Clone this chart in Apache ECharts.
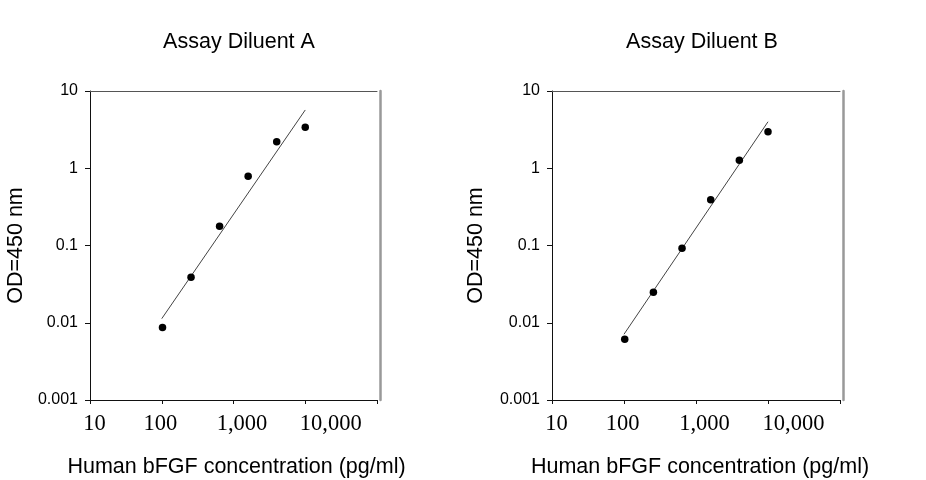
<!DOCTYPE html>
<html>
<head>
<meta charset="utf-8">
<script src="https://cdn.jsdelivr.net/npm/echarts@6/dist/echarts.min.js"></script>
<style>html,body{margin:0;padding:0;background:#fff}#c{width:926px;height:480px}</style>
</head>
<body>
<div id="c"></div>
<script>
// ---- data ----
var titles = ['Assay Diluent A', 'Assay Diluent B'];
var concentrations = [102.4, 256, 640, 1600, 4000, 10000];
var odA = [0.0087, 0.0387, 0.177, 0.79, 2.21, 3.39];
var odB = [0.0061, 0.0248, 0.092, 0.39, 1.27, 2.97];
var fitX = [100, 10000];
var fitA = [0.0113, 5.68];
var fitB = [0.0071, 4.0];
var xTickValues = [10, 100, 1000, 10000, 100000];
var xTickLabels = ['10', '100', '1,000', '10,000', ''];
var yTickValues = [0.001, 0.01, 0.1, 1, 10];
var yTickLabels = ['0.001', '0.01', '0.1', '1', '10'];
var xAxisTitle = 'Human bFGF concentration (pg/ml)';
var yAxisTitle = 'OD=450 nm';

function pairs(xs, ys) { return xs.map(function (x, i) { return [x, ys[i]]; }); }

var sans = 'Liberation Sans, Arial, sans-serif';
var serif = 'Liberation Serif, Times New Roman, serif';
var labelPad = { '10': [0, 0, 0, 9], '100': [0, 3, 0, 0], '1,000': [0, 0, 0, 17], '10,000': [0, 0, 0, 51] };

function xLabelFmt(v) {
  var i = xTickValues.findIndex(function (t) { return Math.abs(Math.log10(t) - Math.log10(v)) < 1e-6; });
  if (i < 0 || !xTickLabels[i]) return '';
  var key = { '10': 'a', '100': 'b', '1,000': 'c', '10,000': 'd' }[xTickLabels[i]];
  return '{' + key + '|' + xTickLabels[i] + '}';
}
function yLabelFmt(v) {
  var i = yTickValues.findIndex(function (t) { return Math.abs(Math.log10(t) - Math.log10(v)) < 1e-6; });
  return i < 0 ? '' : yTickLabels[i];
}
function xr(p) { return { fontFamily: serif, fontSize: 22.5, color: '#000', padding: p }; }
var richX = { a: xr(labelPad['10']), b: xr(labelPad['100']), c: xr(labelPad['1,000']), d: xr(labelPad['10,000']) };

var grids = [
  { left: 90, top: 91, width: 287, height: 309, outerBoundsMode: 'none', containLabel: false },
  { left: 552, top: 91, width: 288, height: 309, outerBoundsMode: 'none', containLabel: false }
];
var namePadX = [[0, 0, 0, 6], [0, 0, 0, 8]];
var yGap = [63, 65];

var xAxes = [], yAxes = [], series = [];
[0, 1].forEach(function (g) {
  xAxes.push({
    type: 'log', gridIndex: g, min: 10, max: 100000, logBase: 10, position: 'bottom',
    name: xAxisTitle, nameLocation: 'middle', nameGap: 56,
    nameTextStyle: { fontFamily: sans, fontSize: 21.5, color: '#000', padding: namePadX[g] },
    axisLine: { lineStyle: { color: '#111', width: 1 } },
    axisTick: { show: true, length: 4, lineStyle: { color: '#111' } },
    minorTick: { show: false },
    splitLine: { show: false },
    axisLabel: { margin: 13, formatter: xLabelFmt, rich: richX, showMaxLabel: true }
  });
  xAxes.push({
    type: 'log', gridIndex: g, min: 10, max: 100000, position: 'top',
    axisLine: { lineStyle: { color: '#555', width: 1 } },
    axisTick: { show: false }, axisLabel: { show: false }, splitLine: { show: false }
  });
  yAxes.push({
    type: 'log', gridIndex: g, min: 0.001, max: 10, position: 'left',
    name: yAxisTitle, nameLocation: 'middle', nameGap: yGap[g], nameRotate: 90,
    nameTextStyle: { fontFamily: sans, fontSize: 21.5, color: '#000' },
    axisLine: { lineStyle: { color: '#111', width: 1 } },
    axisTick: { show: true, length: 5, lineStyle: { color: '#111' } },
    splitLine: { show: false },
    axisLabel: { margin: 12, formatter: yLabelFmt, fontFamily: sans, fontSize: 16, color: '#000' }
  });
  yAxes.push({
    type: 'log', gridIndex: g, min: 0.001, max: 10, position: 'right', offset: 3,
    axisLine: { lineStyle: { color: '#999', width: 2.5 } },
    axisTick: { show: false }, axisLabel: { show: false }, splitLine: { show: false }
  });
  series.push({
    type: 'line', xAxisIndex: g * 2, yAxisIndex: g * 2,
    data: pairs(fitX, g === 0 ? fitA : fitB),
    showSymbol: false, symbol: 'none',
    lineStyle: { color: '#444', width: 1 }, silent: true, z: 2
  });
  series.push({
    type: 'scatter', xAxisIndex: g * 2, yAxisIndex: g * 2,
    data: pairs(concentrations, g === 0 ? odA : odB),
    symbol: 'circle', symbolSize: 7.5,
    itemStyle: { color: '#000', opacity: 1 }, z: 3
  });
});

var chart = echarts.init(document.getElementById('c'), null, { renderer: 'canvas' });
chart.setOption({
  animation: false,
  backgroundColor: '#fff',
  title: [
    { text: titles[0], left: 234, top: 26, textAlign: 'center', textStyle: { fontFamily: sans, fontSize: 21.5, fontWeight: 'normal', color: '#000' } },
    { text: titles[1], left: 697, top: 26, textAlign: 'center', textStyle: { fontFamily: sans, fontSize: 21.5, fontWeight: 'normal', color: '#000' } }
  ],
  grid: grids,
  xAxis: xAxes,
  yAxis: yAxes,
  series: series
});
</script>
</body>
</html>
